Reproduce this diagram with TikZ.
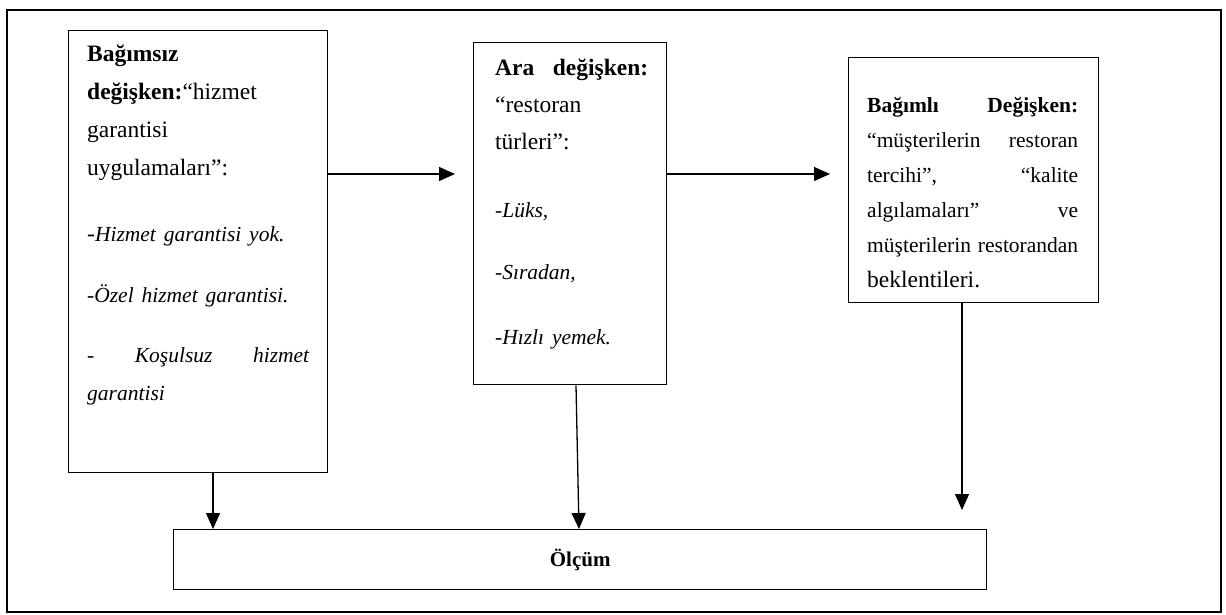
\documentclass[tikz,border=0pt]{standalone}
\usepackage{fontspec}
\setmainfont{Liberation Serif}
\usetikzlibrary{arrows.meta,positioning}
\newcommand{\fullline}[2]{\leavevmode\hbox to #1{#2}}
\newcommand{\itsmall}[1]{\fontsize{21.5}{#1}\selectfont\itshape}

\begin{document}
\begin{tikzpicture}[x=1pt,y=-1pt,
  box/.style={draw,line width=1.3pt,inner sep=0pt,anchor=north west},
  txt/.style={inner sep=0pt,anchor=north west,align=left},
  arr/.style={line width=1.3pt,-{Triangle[length=16pt,width=14pt]}}]
\useasboundingbox (0,0) rectangle (1226,615);
\draw[line width=1.3pt] (7,10) rectangle (1221,612);
% variable boxes
\node[box,minimum width=259pt,minimum height=442pt] (indep) at (68,30) {};
\node[box,minimum width=193pt,minimum height=342pt] (mod) at (473,42) {};
\node[box,minimum width=250pt,minimum height=245pt] (dep) at (848,57) {};
\node[box,minimum width=813pt,minimum height=60pt,font=\bfseries\fontsize{21}{24}\selectfont] (meas) at (173,529) {Ölçüm};
% box texts
\node[txt,text width=224pt,font=\fontsize{23.5}{38}\selectfont] (indeptxt) at (87,45) {\textbf{Bağımsız}\\
  \textbf{değişken:}“hizmet\\ garantisi\\ uygulamaları”:\\[28pt]
  -{\itsmall{38}Hizmet garantisi yok.}\\[23pt]
  {\itsmall{38}-Özel hizmet garantisi.}\\[22pt]
  \fullline{222pt}{\itsmall{38}-\hfill Koşulsuz\hfill hizmet}\\
  {\itsmall{36}garantisi}};
\node[txt,text width=158pt,font=\fontsize{23.5}{37}\selectfont] (modtxt) at (495,59) {\fullline{153pt}{\bfseries Ara\hfill değişken:}\\
  “restoran\\ türleri”:\\[31pt]
  {\itsmall{37}-Lüks,}\\[25pt]
  {\itsmall{37}-Sıradan,}\\[28pt]
  {\itsmall{37}-Hızlı yemek.}};
\node[txt,text width=215pt,font=\fontsize{21.5}{35}\selectfont] (deptxt) at (867,97) {\fullline{211pt}{\bfseries Bağımlı\hfill Değişken:}\\
  \fullline{211pt}{“müşterilerin\hfill restoran}\\
  \fullline{211pt}{tercihi”,\hfill “kalite}\\
  \fullline{211pt}{algılamaları”\hfill ve}\\
  \fullline{211pt}{müşterilerin\hfill restorandan}\\
  {\fontsize{23.5}{35}\selectfont beklentileri.}};
% connectors
\draw[arr,shorten >=18pt] (indep.east |- 0,174) -- (mod.west |- 0,174);
\draw[arr,shorten >=18pt] (mod.east |- 0,174) -- (dep.west |- 0,174);
\draw[arr] (indep.south -| 213,0) -- (meas.north -| 213,0);
\draw[arr] (mod.south -| 576,0) -- (meas.north -| 579,0);
\draw[arr,shorten >=19pt] (dep.south -| 962,0) -- (meas.north -| 962,0);
\end{tikzpicture}
\end{document}
